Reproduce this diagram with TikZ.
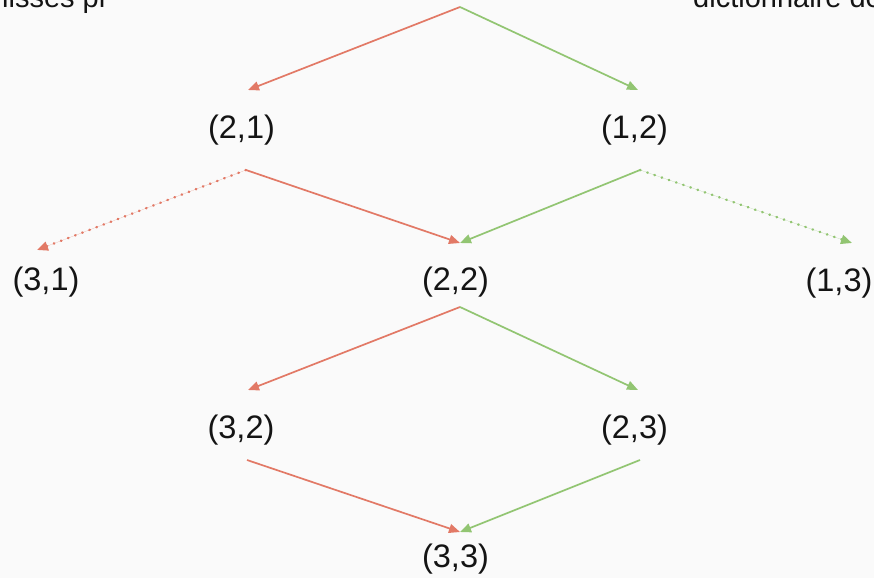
\documentclass[tikz,border=0pt]{standalone}
\usepackage{fontspec}
\setmainfont{Liberation Sans}
\usetikzlibrary{arrows.meta,calc}
\definecolor{bgcol}{RGB}{250,250,250}
\definecolor{redline}{RGB}{226,121,102}
\definecolor{greenline}{RGB}{146,197,114}
\definecolor{inkcol}{RGB}{20,20,20}
\tikzset{
  pair/.style={inner sep=0pt, text=inkcol, font=\fontsize{32.5}{36}\selectfont},
  cuttext/.style={inner sep=0pt, text=inkcol, font=\fontsize{29}{33}\selectfont},
  link/.style={line width=1.7pt, -{Triangle[length=11pt,width=9pt]}},
  redlink/.style={link, draw=redline, fill=redline},
  greenlink/.style={link, draw=greenline, fill=greenline},
  faint/.style={dash pattern=on 0.6pt off 7pt, line cap=round, line width=2.4pt}
}
\begin{document}
\begin{tikzpicture}[x=1pt,y=-1pt]
  \fill[bgcol] (0,0) rectangle (874,578);
  \useasboundingbox (0,0) rectangle (874,578);
  \clip (0,0) rectangle (874,578);

  % labels running above the frame
  \node[cuttext, anchor=base west] (capl) at (2,8) {lisses pr};
  \node[cuttext, anchor=base west] (capr) at (693,8) {dictionnaire de};

  % lattice of pairs
  \coordinate (root) at (460,7);
  \node[pair] (n21) at (241.5,130.5) {(2,1)};
  \node[pair] (n12) at (634.5,130.5) {(1,2)};
  \node[pair] (n31) at (46,282.5) {(3,1)};
  \node[pair] (n22) at (455.5,282.5) {(2,2)};
  \node[pair] (n13) at (839,283) {(1,3)};
  \node[pair] (n32) at (241,430.5) {(3,2)};
  \node[pair] (n23) at (634.5,430.5) {(2,3)};
  \node[pair] (n33) at (455.5,559.5) {(3,3)};

  % first step
  \draw[redlink] (root) -- ($(n21)+(6.5,-40.5)$);
  \draw[greenlink] (root) -- ($(n12)+(3.5,-40.5)$);

  % second step
  \draw[redlink] ($(n21)+(4.5,39.5)$) -- ($(n22)+(4.5,-39.5)$);
  \draw[redlink, faint] ($(n21)+(4.5,39.5)$) -- ($(n31)+(-9,-32.5)$);
  \draw[greenlink] ($(n12)+(5.5,39.5)$) -- ($(n22)+(4.5,-39.5)$);
  \draw[greenlink, faint] ($(n12)+(5.5,39.5)$) -- ($(n13)+(13,-40)$);

  % third step
  \draw[redlink] ($(n22)+(4.5,24.5)$) -- ($(n32)+(7,-40.5)$);
  \draw[greenlink] ($(n22)+(4.5,24.5)$) -- ($(n23)+(3.5,-40.5)$);

  % fourth step
  \draw[redlink] ($(n32)+(6,29.5)$) -- ($(n33)+(4.5,-27.5)$);
  \draw[greenlink] ($(n23)+(5.5,29.5)$) -- ($(n33)+(4.5,-27.5)$);
\end{tikzpicture}
\end{document}
